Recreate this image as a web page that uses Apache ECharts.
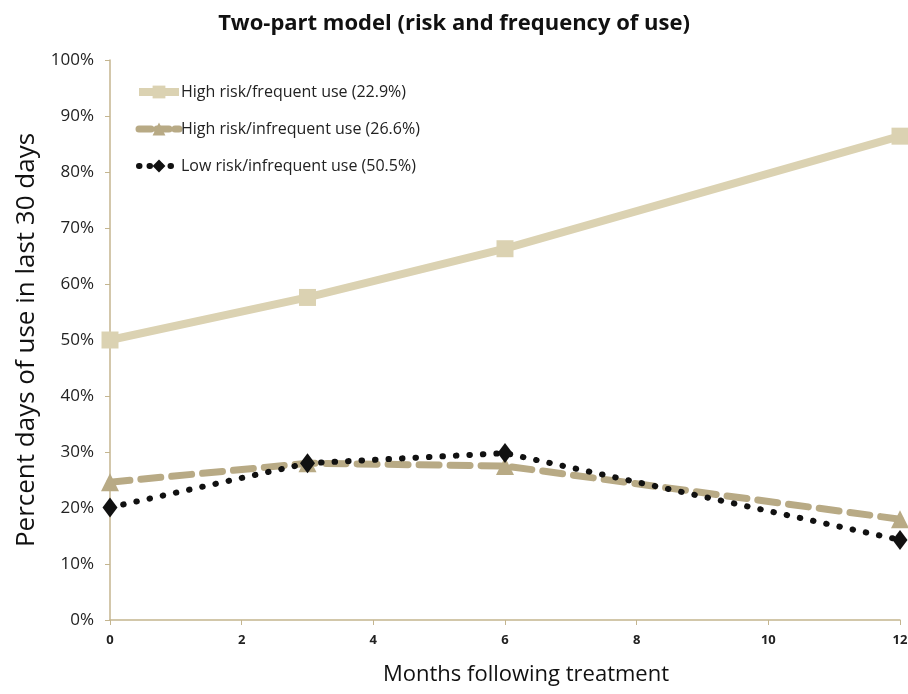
<!DOCTYPE html>
<html>
<head>
<meta charset="utf-8">
<script src="https://cdn.jsdelivr.net/npm/echarts@6/dist/echarts.min.js"></script>
<style>html,body{margin:0;padding:0;background:#fff}#c{width:908px;height:694px}</style>
</head>
<body>
<div id="c"></div>
<script>
const months = [0, 3, 6, 12];
const highFrequent = [50.0, 57.6, 66.3, 86.4];
const highInfrequent = [24.6, 28.0, 27.5, 18.0];
const lowInfrequent = [20.1, 28.0, 29.8, 14.3];
const seriesNames = ['High risk/frequent use (22.9%)', 'High risk/infrequent use (26.6%)', 'Low risk/infrequent use (50.5%)'];
const yTicks = [0, 10, 20, 30, 40, 50, 60, 70, 80, 90, 100];

const font = '"Open Sans", sans-serif';
const axisColor = '#c4b58f';
const cLight = '#dbd2b2', cMid = '#b8aa85', cDark = '#111';
const pair = (vals) => months.map((m, i) => [m, vals[i]]);

const chart = echarts.init(document.getElementById('c'));
chart.setOption({
  animation: false,
  backgroundColor: '#fff',
  title: {
    text: 'Two-part model (risk and frequency of use)',
    left: 'center', top: 8,
    textStyle: { fontFamily: font, fontSize: 22, fontWeight: 'bold', color: '#111' }
  },
  grid: { left: 110, right: 8, top: 60, bottom: 74, outerBoundsMode: 'none', containLabel: false },
  legend: {
    orient: 'vertical', left: 130, top: 79, itemGap: 21,
    itemWidth: 40, itemHeight: 16,
    textStyle: { fontFamily: font, fontSize: 16, color: '#222', padding: [0, 0, 0, -3] },
    data: [
      { name: seriesNames[0], lineStyle: { width: 8, color: cLight } },
      { name: seriesNames[1], lineStyle: { width: 7, color: cMid, type: [12, 6] } },
      { name: seriesNames[2], lineStyle: { width: 6, color: cDark, type: [0.5, 10], cap: 'round' } }
    ]
  },
  xAxis: {
    type: 'value', min: 0, max: 12, interval: 2,
    name: 'Months following treatment', nameLocation: 'middle', nameGap: 44,
    nameTextStyle: { fontFamily: font, fontSize: 22, color: '#111', padding: [0, 0, 0, 42] },
    axisLine: { lineStyle: { color: axisColor, width: 1.5 } },
    axisTick: { show: true, length: 5, lineStyle: { color: axisColor } },
    axisLabel: { fontFamily: font, fontSize: 13, fontWeight: 'bold', color: '#222', margin: 14 },
    splitLine: { show: false }
  },
  yAxis: {
    type: 'value', min: 0, max: 100, interval: 10,
    name: 'Percent days of use in last 30 days', nameLocation: 'middle', nameGap: 70,
    nameTextStyle: { fontFamily: font, fontSize: 26, color: '#111' },
    axisLine: { show: true, lineStyle: { color: axisColor, width: 1.5 } },
    axisTick: { show: true, length: 5, lineStyle: { color: axisColor } },
    axisLabel: { fontFamily: font, fontSize: 17, color: '#222', margin: 16,
      formatter: (v) => yTicks.includes(v) ? v + '%' : '' },
    splitLine: { show: false }
  },
  series: [
    {
      name: seriesNames[0], type: 'line', data: pair(highFrequent),
      symbol: 'rect', symbolSize: 17,
      itemStyle: { color: cLight },
      lineStyle: { color: cLight, width: 8 }, z: 2
    },
    {
      name: seriesNames[1], type: 'line', data: pair(highInfrequent),
      symbol: 'triangle', symbolSize: 18,
      itemStyle: { color: cMid },
      lineStyle: { color: cMid, width: 7, type: [20, 11], cap: 'round' }, z: 3
    },
    {
      name: seriesNames[2], type: 'line', data: pair(lowInfrequent),
      symbol: 'diamond', symbolSize: [15, 20],
      itemStyle: { color: cDark },
      lineStyle: { color: cDark, width: 6, type: [0.5, 13], cap: 'round' }, z: 4
    }
  ]
});
</script>
</body>
</html>
